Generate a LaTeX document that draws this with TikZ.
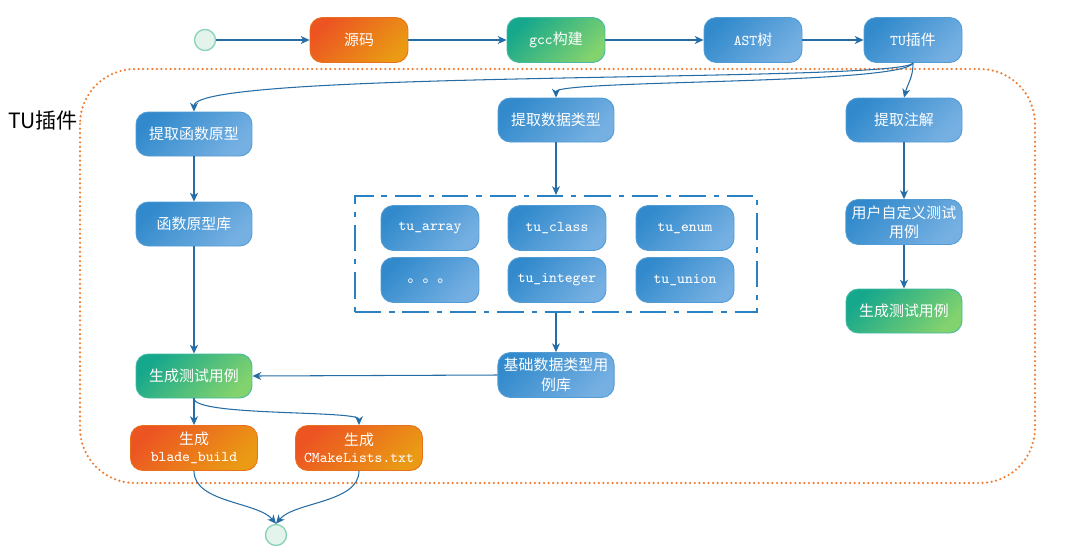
\documentclass[tikz,border=0pt]{standalone}
\usepackage{fontspec}
\setmainfont{Noto Sans CJK SC}
\usetikzlibrary{arrows.meta}

\definecolor{bluedark}{RGB}{50,138,204}
\definecolor{bluelight}{RGB}{118,176,226}
\definecolor{orangedark}{RGB}{236,84,34}
\definecolor{orangelight}{RGB}{234,154,20}
\definecolor{greendark}{RGB}{22,168,140}
\definecolor{greenlight}{RGB}{130,210,110}
\definecolor{arrowblue}{RGB}{38,108,165}
\definecolor{plugorange}{RGB}{240,125,50}
\definecolor{framblue}{RGB}{42,130,195}
\definecolor{roundfill}{RGB}{229,243,237}
\definecolor{rounddraw}{RGB}{140,212,184}

\newcommand{\code}[1]{{\ttfamily #1}}

\tikzset{
	box/.style={rounded corners=7pt, minimum width=1.96cm, minimum height=0.9cm, text=white, align=center, font=\fontsize{8.5}{11}\selectfont, line width=0.5pt},
	wide/.style={minimum width=2.32cm, minimum height=0.88cm},
	bluebox/.style={box, top color=bluedark, bottom color=bluelight, shading angle=45, draw=bluedark!85!white},
	orangebox/.style={box, top color=orangedark, bottom color=orangelight, shading angle=45, draw=orangedark!60!orangelight},
	greenbox/.style={box, top color=greendark, bottom color=greenlight, shading angle=45, draw=greendark!80!white},
	startend/.style={circle, minimum size=0.42cm, inner sep=0pt, fill=roundfill, draw=rounddraw, line width=0.8pt},
	flow/.style={draw=arrowblue, line width=0.6pt, -{Stealth[length=5pt,width=4.5pt,inset=1.5pt]}},
}

\begin{document}
\begin{tikzpicture}[x=0.02cm, y=-0.02cm]
	%%%%% START %%%%%
	\useasboundingbox (0,0) rectangle (1068,549);
	
	\draw[draw=plugorange, line width=1.4pt, line cap=round, dash pattern=on 0pt off 2.6pt, rounded corners=1.1cm] (80,69) rectangle (1035,483);
	\node[font=\fontsize{12}{14}\selectfont] (pluglabel) at (43,120) {TU插件};
	
	% top row
	\node[startend] (start) at (205,40) {};
	\node[orangebox] (src) at (359,40) {源码};
	\node[greenbox] (gcc) at (556,40) {\code{gcc}构建};
	\node[bluebox] (ast) at (753,40) {\code{AST}树};
	\node[bluebox] (tu) at (913,40) {\code{TU}插件};
	
	% left column
	\node[bluebox, wide] (getfunc) at (194,134) {提取函数原型};
	\node[bluebox, wide] (funclib) at (194,224) {函数原型库};
	\node[greenbox, wide] (gentest) at (194,376) {生成测试用例};
	\node[orangebox, minimum width=2.54cm, minimum height=0.9cm] (blade) at (194,448) {生成\\[-1pt]\code{blade\_build}};
	\node[orangebox, minimum width=2.54cm, minimum height=0.9cm] (cmake) at (359,448) {生成\\[-1pt]\code{CMakeLists.txt}};
	\node[startend] (finish) at (276,535) {};
	
	% middle column
	\node[bluebox, wide] (gettype) at (556,120) {提取数据类型};
	\node[draw=framblue, line width=1.2pt, dash pattern=on 15pt off 4.5pt on 3pt off 4.5pt, minimum width=8.04cm, minimum height=2.32cm] (types) at (556,254) {};
	\node[bluebox] (tarray) at (430,228) {\code{tu\_array}};
	\node[bluebox] (tclass) at (557,228) {\code{tu\_class}};
	\node[bluebox] (tenum) at (685,228) {\code{tu\_enum}};
	\node[bluebox] (tmore) at (430,280) {\raisebox{-3pt}{。。。}};
	\node[bluebox] (tint) at (557,280) {\code{tu\_integer}};
	\node[bluebox] (tunion) at (685,280) {\code{tu\_union}};
	\node[bluebox, wide] (baselib) at (556,375) {基础数据类型用\\例库};
	
	% right column
	\node[bluebox, wide] (getnote) at (904,120) {提取注解};
	\node[bluebox, wide] (userdef) at (904,222) {用户自定义测试\\用例};
	\node[greenbox, wide] (gentest2) at (904,311) {生成测试用例};
	
	% connectors
	\draw[flow] (start) -- (src);
	\draw[flow] (src) -- (gcc);
	\draw[flow] (gcc) -- (ast);
	\draw[flow] (ast) -- (tu);
	\draw[flow] (tu.south) .. controls +(-10,20) and +(0,-42) .. (getfunc.north);
	\draw[flow] (tu.south) .. controls +(-10,22) and +(0,-18) .. (gettype.north);
	\draw[flow] (tu.south) .. controls +(0,15) and +(4,-15) .. (getnote.north);
	
	\draw[flow] (getfunc) -- (funclib);
	\draw[flow] (funclib) -- (gentest);
	\draw[flow] (gentest) -- (blade);
	\draw[flow] (gentest.south) .. controls +(0,18) and +(0,-15) .. (cmake.north);
	\draw[flow] (blade.south) .. controls +(0,32) and +(-18,-22) .. (finish.north);
	\draw[flow] (cmake.south) .. controls +(0,32) and +(18,-22) .. (finish.north);
	
	\draw[flow] (gettype) -- (types.north);
	\draw[flow] (types.south) -- (baselib);
	\draw[flow] (baselib.west) -- (gentest.east);
	
	\draw[flow] (getnote) -- (userdef);
	\draw[flow] (userdef) -- (gentest2);
	%%%%% END %%%%%
\end{tikzpicture}
\end{document}
